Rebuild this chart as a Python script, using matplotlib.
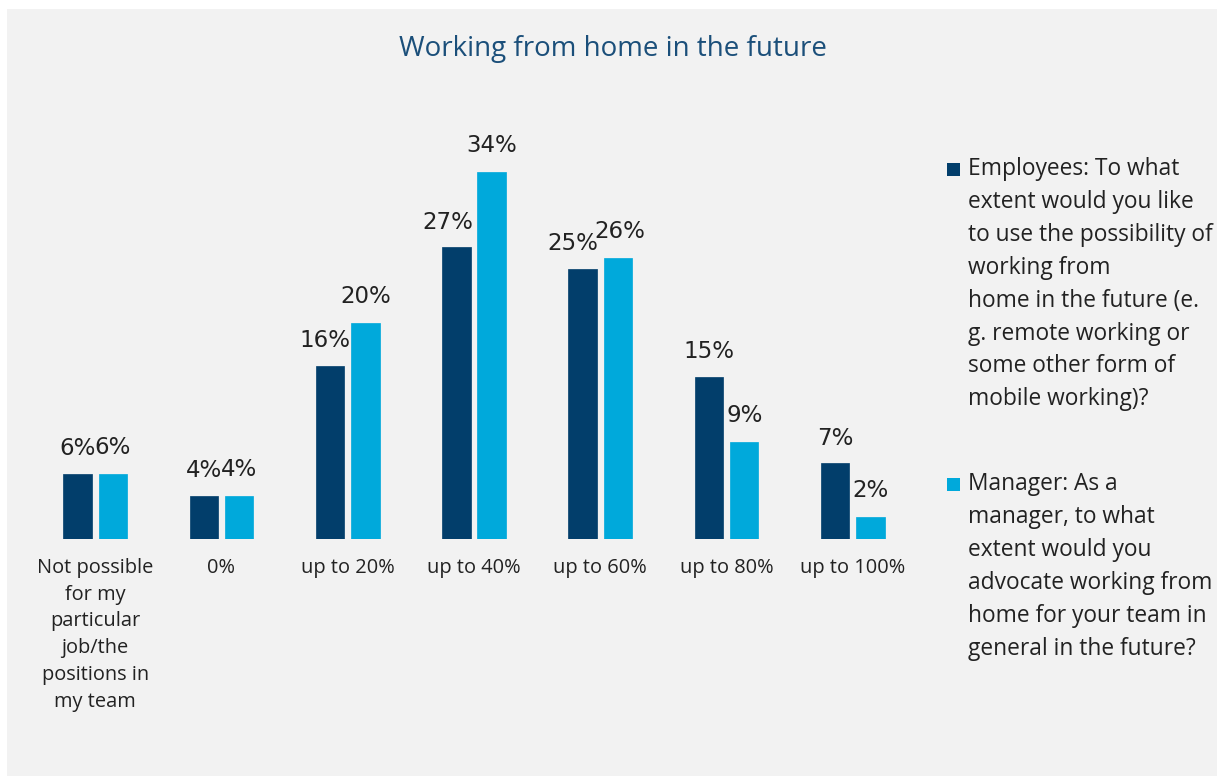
import matplotlib
matplotlib.use("Agg")
import matplotlib.pyplot as plt
from matplotlib.patches import Rectangle
import numpy as np

categories = ["Not possible\nfor my\nparticular\njob/the\npositions in\nmy team",
              "0%", "up to 20%", "up to 40%", "up to 60%", "up to 80%", "up to 100%"]
employees = [6, 4, 16, 27, 25, 15, 7]
managers = [6, 4, 20, 34, 26, 9, 2]
series_names = [
    "Employees: To what\nextent would you like\nto use the possibility of\nworking from\nhome in the future (e.\ng. remote working or\nsome other form of\nmobile working)?",
    "Manager: As a\nmanager, to what\nextent would you\nadvocate working from\nhome for your team in\ngeneral in the future?",
]
title = "Working from home in the future"

dark = "#023E6B"
light = "#00A9DB"
bg = "#F2F2F2"
font = "Open Sans"

W, H = 1217, 776
fig = plt.figure(figsize=(W / 100, H / 100), dpi=100)
fig.patch.set_facecolor("white")
fig.patches.append(Rectangle((7 / W, 0), 1 - 7 / W, 1 - 9 / H, transform=fig.transFigure,
                             facecolor=bg, edgecolor="none", zorder=-5))

left, right = 32 / W, 916 / W
bottom, top = 1 - 539 / H, 1 - 130 / H
ax = fig.add_axes([left, bottom, right - left, top - bottom])
ax.set_facecolor("none")

x = np.arange(len(categories))
bw = 0.225
off = 0.14
b1 = ax.bar(x - off, employees, bw, color=dark, edgecolor=dark, linewidth=0.5)
b2 = ax.bar(x + off, managers, bw, color=light, edgecolor=light, linewidth=0.5)

ax.set_xlim(-0.5, len(categories) - 0.5)
ax.set_ylim(0, 409 / 10.8)
for s in ax.spines.values():
    s.set_visible(False)
ax.set_yticks([])
ax.set_xticks(x)
ax.set_xticklabels(categories, fontsize=14.4, family=font, color="#222222", linespacing=1.455, va="top")
ax.tick_params(axis="x", length=0, pad=13.5)

dx_emp = [0, 0, -4, -6, -7, 0, 0]
dx_man = [0, 0, 0, 0, 1, 0, 0]
for rect, v, dx in zip(b1, employees, dx_emp):
    ax.annotate(f"{v}%", (rect.get_x() + rect.get_width() / 2, v), xytext=(dx, 10),
                textcoords="offset points", ha="center", va="bottom", fontsize=16.5,
                family="DejaVu Sans", color="#222222")
for rect, v, dx in zip(b2, managers, dx_man):
    ax.annotate(f"{v}%", (rect.get_x() + rect.get_width() / 2, v), xytext=(dx, 11),
                textcoords="offset points", ha="center", va="bottom", fontsize=16.5,
                family="DejaVu Sans", color="#222222")

fig.text(613 / W, 1 - 49 / H, title, ha="center", va="center", fontsize=20,
         family=font, color="#1B4F7A")

# legend
leg_tops = [157, 472]
for name, col, ytop in zip(series_names, [dark, light], leg_tops):
    fig.patches.append(Rectangle((947 / W, 1 - (ytop + 19) / H), 13 / W, 13 / H,
                                 transform=fig.transFigure, facecolor=col, edgecolor="none"))
    fig.text(968 / W, 1 - ytop / H, name, ha="left", va="top", fontsize=16.4,
             family=font, color="#222222", linespacing=1.495)

fig.savefig("out.png", dpi=100, facecolor=fig.get_facecolor())
